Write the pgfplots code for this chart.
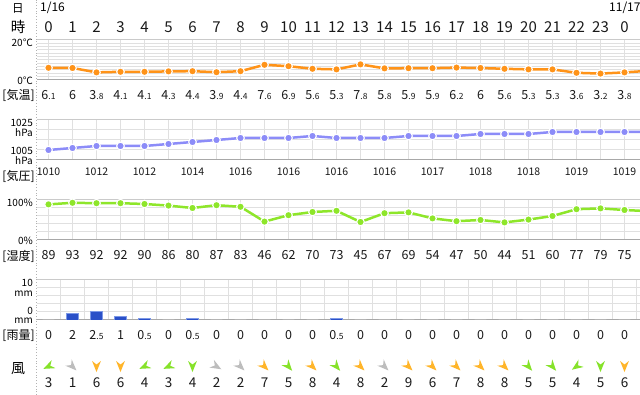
\documentclass[border=0pt]{standalone}
\usepackage{pgfplots}
\pgfplotsset{compat=1.18}
\usepackage{fontspec}
\setmainfont{Noto Sans CJK JP}
\definecolor{tempc}{HTML}{FF9318}
\definecolor{presc}{HTML}{8C8CF8}
\definecolor{humc}{HTML}{8EE62A}
\definecolor{rainc}{HTML}{2A50C8}
\definecolor{rainb}{HTML}{7C98E6}
\definecolor{windg}{HTML}{86E22A}
\definecolor{windo}{HTML}{FFB52A}
\definecolor{winda}{HTML}{BDBDBD}
\definecolor{gmaj}{HTML}{CACACA}
\definecolor{gmin}{HTML}{E0E0E0}
\definecolor{gbase}{HTML}{A8A8A8}
\protected\def\sm#1{{\fontsize{8.5}{9}\selectfont #1}}
\newcommand\fs[1]{\fontsize{#1}{#1}\selectfont}

\pgfdeclareplotmark{wind}{%
  \pgfpathmoveto{\pgfpoint{\pgfplotmarksize}{0pt}}%
  \pgfpathlineto{\pgfpoint{-\pgfplotmarksize}{0.8\pgfplotmarksize}}%
  \pgfpathlineto{\pgfpoint{-0.35\pgfplotmarksize}{0pt}}%
  \pgfpathlineto{\pgfpoint{-\pgfplotmarksize}{-0.8\pgfplotmarksize}}%
  \pgfpathclose
  \pgfusepathqfill}

\pgfplotsset{
  panel/.style={
    scale only axis, width=603pt, height=40pt,
    xmin=-0.47917, xmax=24.64583,
    anchor=south west,
    axis x line*=bottom, axis y line*=left,
    x axis line style={gbase, line width=1pt, -},
    y axis line style={draw=none},
    major tick length=0pt, minor tick length=0pt,
    tick style={draw=none},
    xtick={0,...,25}, xticklabel=\empty, yticklabel=\empty,
    xmajorgrids, ymajorgrids,
    major grid style={gmin, line width=1pt},
    extra y tick style={major grid style={gmaj, line width=1pt}, yticklabel=\empty},
  },
  dataline/.style={#1, line width=2.5pt, mark=*, mark size=3.8pt,
    mark options={fill=#1, draw=white, line width=1.1pt}},
  valrow/.style={only marks, mark=none, point meta=explicit symbolic,
    nodes near coords={\pgfplotspointmeta},
    nodes near coords align={center},
    every node near coord/.append style={anchor=base, inner sep=0pt, text=black!90, font=#1}},
  windrow/.style 2 args={only marks, mark=wind, mark size=5.6pt, color=#1, mark options={rotate=#2}},
}

\begin{document}
\begin{tikzpicture}[x=1pt,y=1pt]
% left dotted separator
\draw[gray!60, dotted, line width=0.8pt] (36.5pt,0pt) -- (36.5pt,395pt);

% temperature
\begin{axis}[panel, at={(37pt,315pt)}, ymin=0, ymax=20,
  ytick={1.6667,3.3333,5,6.6667,8.3333,10,11.6667,13.3333,15,16.6667,18.3333},
  extra y ticks={20}]
\addplot[dataline=tempc] coordinates {(0,6.1)(1,6)(2,3.8)(3,4.1)(4,4.1)(5,4.3)(6,4.4)(7,3.9)(8,4.4)(9,7.6)(10,6.9)(11,5.6)(12,5.3)(13,7.8)(14,5.8)(15,5.9)(16,5.9)(17,6.2)(18,6)(19,5.6)(20,5.3)(21,5.3)(22,3.6)(23,3.2)(24,3.8)(25,4.6)};
\end{axis}

% pressure
\begin{axis}[panel, at={(37pt,235pt)}, ymin=1005, ymax=1025,
  ytick={1010,1015,1020}, extra y ticks={1025}]
\addplot[dataline=presc] coordinates {(0,1010)(1,1011)(2,1012)(3,1012)(4,1012)(5,1013)(6,1014)(7,1015)(8,1016)(9,1016)(10,1016)(11,1017)(12,1016)(13,1016)(14,1016)(15,1017)(16,1017)(17,1017)(18,1018)(19,1018)(20,1018)(21,1019)(22,1019)(23,1019)(24,1019)(25,1019)};
\end{axis}

% humidity
\begin{axis}[panel, at={(37pt,155pt)}, ymin=0, ymax=100,
  ytick={20,40,60,80}, extra y ticks={100}]
\addplot[dataline=humc] coordinates {(0,89)(1,93)(2,92)(3,92)(4,90)(5,86)(6,80)(7,87)(8,83)(9,46)(10,62)(11,70)(12,73)(13,45)(14,67)(15,69)(16,54)(17,47)(18,50)(19,44)(20,51)(21,60)(22,77)(23,79)(24,75)(25,72)};
\end{axis}

% rain
\begin{axis}[panel, at={(37pt,75pt)}, ymin=0, ymax=12,
  ytick={2.4,4.8,7.2,9.6}, extra y ticks={12}, xtick={0.5,1.5,...,24.5}]
\addplot[ybar, bar width=11.7pt, bar shift=0pt, fill=rainc, draw=rainb, line width=0.8pt]
  coordinates {(1,2)(2,2.5)(3,1)(4,0.5)(6,0.5)(12,0.5)};
\addplot[ybar, bar width=11.7pt, bar shift=0pt, draw=gmaj, line width=1pt]
  coordinates {(0,0)(5,0)(7,0)(8,0)(9,0)(10,0)(11,0)(13,0)(14,0)(15,0)(16,0)(17,0)(18,0)(19,0)(20,0)(21,0)(22,0)(23,0)(24,0)};
\end{axis}

% text rows and wind
\begin{axis}[at={(37pt,0pt)}, anchor=south west, scale only axis, width=603pt, height=395pt,
  xmin=-0.47917, xmax=24.64583, ymin=0, ymax=395, hide axis, clip=false]
% hours
\addplot[valrow={\fs{15}}] coordinates {(0,362)[0](1,362)[1](2,362)[2](3,362)[3](4,362)[4](5,362)[5](6,362)[6](7,362)[7](8,362)[8](9,362)[9](10,362)[10](11,362)[11](12,362)[12](13,362)[13](14,362)[14](15,362)[15](16,362)[16](17,362)[17](18,362)[18](19,362)[19](20,362)[20](21,362)[21](22,362)[22](23,362)[23](24,362)[0]};
% temperature values
\addplot[valrow={\fs{12.5}}] coordinates {(0,295.5)[6\sm{.1}](1,295.5)[6](2,295.5)[3\sm{.8}](3,295.5)[4\sm{.1}](4,295.5)[4\sm{.1}](5,295.5)[4\sm{.3}](6,295.5)[4\sm{.4}](7,295.5)[3\sm{.9}](8,295.5)[4\sm{.4}](9,295.5)[7\sm{.6}](10,295.5)[6\sm{.9}](11,295.5)[5\sm{.6}](12,295.5)[5\sm{.3}](13,295.5)[7\sm{.8}](14,295.5)[5\sm{.8}](15,295.5)[5\sm{.9}](16,295.5)[5\sm{.9}](17,295.5)[6\sm{.2}](18,295.5)[6](19,295.5)[5\sm{.6}](20,295.5)[5\sm{.3}](21,295.5)[5\sm{.3}](22,295.5)[3\sm{.6}](23,295.5)[3\sm{.2}](24,295.5)[3\sm{.8}]};
% pressure values
\addplot[valrow={\fs{10.5}}] coordinates {(0,219)[1010](2,219)[1012](4,219)[1012](6,219)[1014](8,219)[1016](10,219)[1016](12,219)[1016](14,219)[1016](16,219)[1017](18,219)[1018](20,219)[1018](22,219)[1019](24,219)[1019]};
% humidity values
\addplot[valrow={\fs{12.5}}] coordinates {(0,135)[89](1,135)[93](2,135)[92](3,135)[92](4,135)[90](5,135)[86](6,135)[80](7,135)[87](8,135)[83](9,135)[46](10,135)[62](11,135)[70](12,135)[73](13,135)[45](14,135)[67](15,135)[69](16,135)[54](17,135)[47](18,135)[50](19,135)[44](20,135)[51](21,135)[60](22,135)[77](23,135)[79](24,135)[75]};
% rain values
\addplot[valrow={\fs{12.5}}] coordinates {(0,55)[0](1,55)[2](2,55)[2\sm{.5}](3,55)[1](4,55)[0\sm{.5}](5,55)[0](6,55)[0\sm{.5}](7,55)[0](8,55)[0](9,55)[0](10,55)[0](11,55)[0](12,55)[0\sm{.5}](13,55)[0](14,55)[0](15,55)[0](16,55)[0](17,55)[0](18,55)[0](19,55)[0](20,55)[0](21,55)[0](22,55)[0](23,55)[0](24,55)[0]};
% wind speeds
\addplot[valrow={\fs{13.5}}] coordinates {(0,7)[3](1,7)[1](2,7)[6](3,7)[6](4,7)[4](5,7)[3](6,7)[4](7,7)[2](8,7)[2](9,7)[7](10,7)[5](11,7)[8](12,7)[4](13,7)[8](14,7)[2](15,7)[9](16,7)[6](17,7)[7](18,7)[8](19,7)[8](20,7)[5](21,7)[5](22,7)[4](23,7)[5](24,7)[6]};
% wind direction arrows
\addplot[windrow={winda}{-45}] coordinates {(1,28.5)(8,28.5)(14,28.5)};
\addplot[windrow={winda}{-30}] coordinates {(7,28.5)};
\addplot[windrow={windg}{205}] coordinates {(0,28.5)(4,28.5)(5,28.5)};
\addplot[windrow={windg}{215}] coordinates {(22,28.5)};
\addplot[windrow={windg}{-90}] coordinates {(6,28.5)(23,28.5)};
\addplot[windrow={windg}{-50}] coordinates {(10,28.5)(12,28.5)(20,28.5)(21,28.5)};
\addplot[windrow={windo}{-90}] coordinates {(2,28.5)(3,28.5)(24,28.5)};
\addplot[windrow={windo}{-45}] coordinates {(9,28.5)(11,28.5)(13,28.5)(15,28.5)(16,28.5)(17,28.5)(18,28.5)(19,28.5)};
\end{axis}

% left labels and header
\node[font=\fs{11.5}] at (18pt,387pt) {日};
\node[font=\fs{12}, anchor=west, inner sep=0pt] at (40pt,387pt) {1/16};
\node[font=\fs{12}, anchor=west, inner sep=0pt] at (609pt,387pt) {11/17};
\node[font=\fs{14.5}] at (18pt,368.5pt) {時};
\node[font=\fs{10}, anchor=east, inner sep=0pt] at (33pt,352pt) {20℃};
\node[font=\fs{10}, anchor=east, inner sep=0pt] at (33pt,314.5pt) {0℃};
\node[font=\fs{12}] at (18.5pt,300pt) {[気温]};
\node[font=\fs{10}, anchor=east, inner sep=0pt] at (33pt,272.3pt) {1025};
\node[font=\fs{10}, anchor=east, inner sep=0pt] at (33pt,262pt) {hPa};
\node[font=\fs{10}, anchor=east, inner sep=0pt] at (33pt,244.5pt) {1005};
\node[font=\fs{10}, anchor=east, inner sep=0pt] at (33pt,234.5pt) {hPa};
\node[font=\fs{12}] at (18.5pt,219pt) {[気圧]};
\node[font=\fs{10}, anchor=east, inner sep=0pt] at (33pt,192pt) {100\%};
\node[font=\fs{10}, anchor=east, inner sep=0pt] at (33pt,154pt) {0\%};
\node[font=\fs{12}] at (18.5pt,139pt) {[湿度]};
\node[font=\fs{10}, anchor=east, inner sep=0pt] at (33pt,112pt) {10};
\node[font=\fs{10}, anchor=east, inner sep=0pt] at (33pt,101.5pt) {mm};
\node[font=\fs{10}, anchor=east, inner sep=0pt] at (33pt,84.5pt) {0};
\node[font=\fs{10}, anchor=east, inner sep=0pt] at (33pt,74.5pt) {mm};
\node[font=\fs{12}] at (18.5pt,59.5pt) {[雨量]};
\node[font=\fs{14}] at (18pt,26pt) {風};

\pgfresetboundingbox
\useasboundingbox (0pt,0pt) rectangle (640pt,395pt);
\end{tikzpicture}
\end{document}
